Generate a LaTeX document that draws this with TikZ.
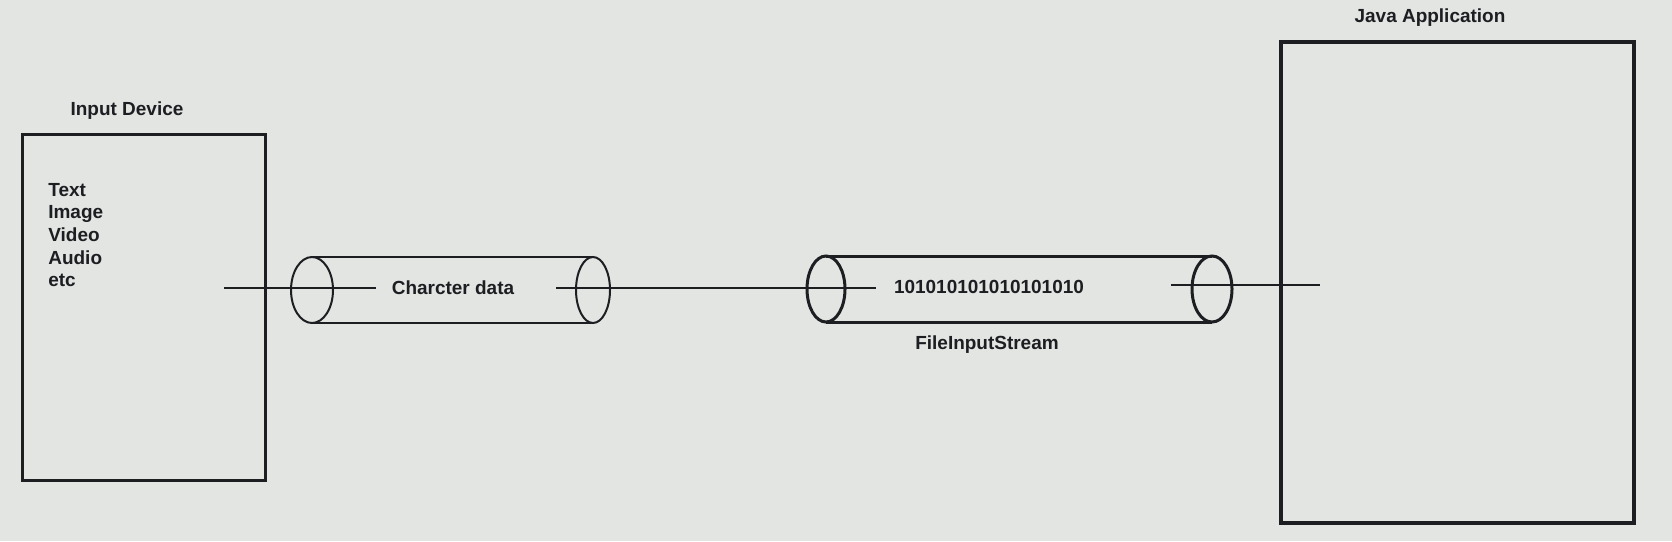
\documentclass[tikz,border=0pt]{standalone}
\usepackage{fontspec}
\setmainfont{Liberation Sans}
\definecolor{screen}{RGB}{226,229,226}
\definecolor{ink}{RGB}{28,30,34}
\tikzset{
  lbl/.style={font=\fontsize{10.8}{12.9}\selectfont\bfseries, text=ink, inner sep=0pt},
  devbox/.style={draw=ink, line width=0.06cm},
  pipe/.style={draw=ink, line width=0.04cm},
  bigpipe/.style={draw=ink, line width=0.06cm},
  wire/.style={draw=ink, line width=0.03cm},
}
\begin{document}
\begin{tikzpicture}[x=0.02cm,y=-0.02cm]
            \useasboundingbox (0,0) rectangle (1672,541);
            \fill[screen] (0,0) rectangle (1672,541);

            \node (input) [devbox, minimum width=4.88cm, minimum height=6.94cm] at (144,307.5) {};
            \node (java) [devbox, line width=0.08cm, minimum width=7.06cm, minimum height=9.62cm] at (1457.5,282.5) {};
            \node (inputlbl) [lbl] at (127,111) {Input Device};
            \node (javalbl) [lbl] at (1430,18) {Java Application};
            \node (kinds) [lbl, align=left, anchor=west] at (48,235) {Text\\Image\\Video\\Audio\\etc};

            \coordinate (chL) at (312,290); \coordinate (chR) at (593,290);
            \coordinate (biL) at (826,289); \coordinate (biR) at (1212,289);
            \draw[pipe] (chL) ellipse [x radius=21, y radius=33] (chR) ellipse [x radius=17, y radius=33];
            \draw[pipe] (312,257) -- (593,257) (312,323) -- (593,323);
            \draw[bigpipe] (biL) ellipse [x radius=19, y radius=33] (biR) ellipse [x radius=20, y radius=33];
            \draw[bigpipe] (826,256) -- (1212,256) (826,322) -- (1212,322);
            \node (chdata) [lbl] at (453,288) {Charcter data};
            \node (bits) [lbl] at (989,287) {101010101010101010};
            \node (fis) [lbl] at (987,345) {FileInputStream};

            \coordinate (w1) at (224,288); \coordinate (w2) at (376,288);
            \coordinate (w3) at (556,288); \coordinate (w4) at (876,288);
            \coordinate (w5) at (1171,285); \coordinate (w6) at (1320,285);
            \draw[wire] (w1) -- (w2); \draw[wire] (w3) -- (w4); \draw[wire] (w5) -- (w6);
        \end{tikzpicture}
\end{document}
